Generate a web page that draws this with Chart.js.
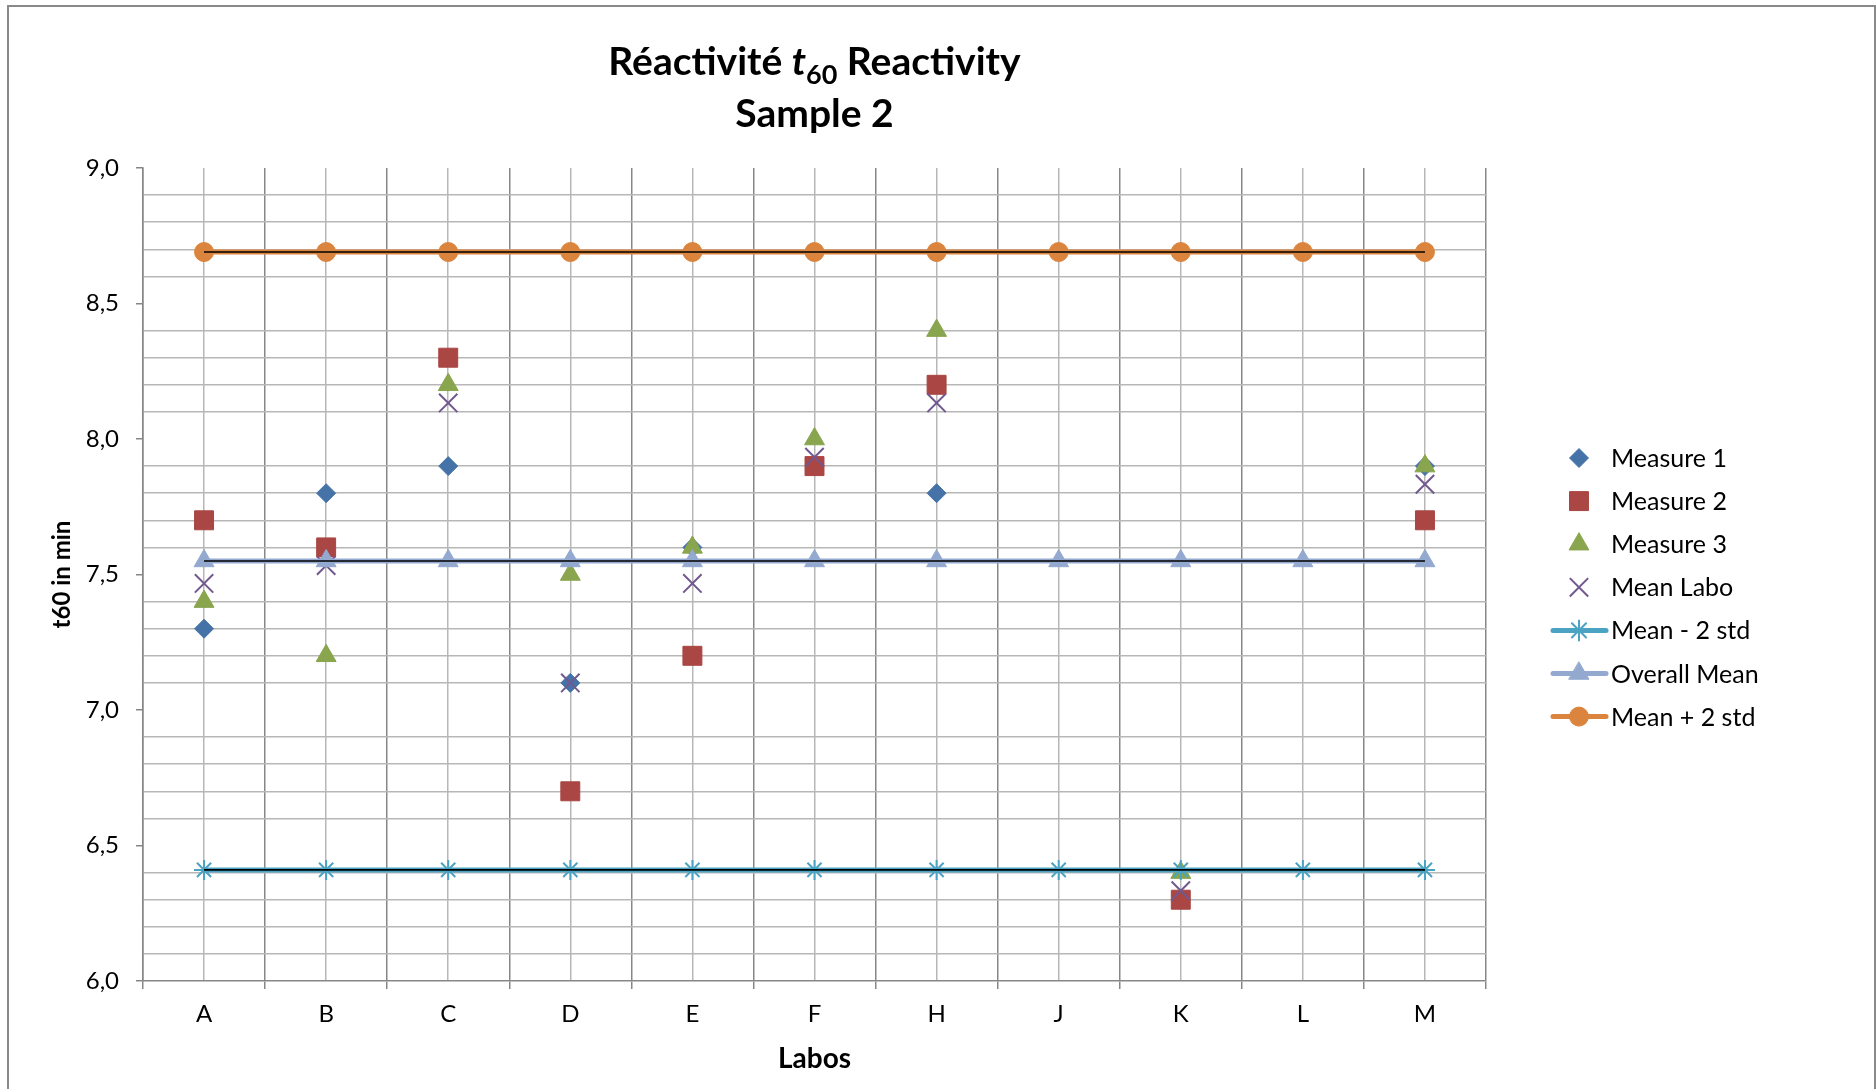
<!DOCTYPE html>
<html><head><meta charset="utf-8">
<script src="https://cdn.jsdelivr.net/npm/chart.js@4.4.1/dist/chart.umd.min.js"></script>
<style>
html,body{margin:0;padding:0;background:#fff;overflow:hidden;}
#frame{position:absolute;left:7px;top:5px;width:1869px;height:1200px;box-sizing:border-box;border:2px solid #898989;border-bottom:none;}
#wrap{position:absolute;left:0;top:0;width:1876px;height:1089px;}
</style></head><body>
<div id="frame"></div>
<div id="wrap"><canvas id="c" width="1876" height="1089"></canvas></div>
<script>
// ---- data ----
const categories = ['A','B','C','D','E','F','H','J','K','L','M'];
const measure1 = [7.3, 7.8, 7.9, 7.1, 7.6, 7.9, 7.8, null, 6.3, null, 7.9];
const measure2 = [7.7, 7.6, 8.3, 6.7, 7.2, 7.9, 8.2, null, 6.3, null, 7.7];
const measure3 = [7.4, 7.2, 8.2, 7.5, 7.6, 8.0, 8.4, null, 6.4, null, 7.9];
const meanLabo = [7.467, 7.533, 8.133, 7.1, 7.467, 7.933, 8.133, null, 6.333, null, 7.833];
const meanMinus2Std = [6.41, 6.41, 6.41, 6.41, 6.41, 6.41, 6.41, 6.41, 6.41, 6.41, 6.41];
const overallMean = [7.55, 7.55, 7.55, 7.55, 7.55, 7.55, 7.55, 7.55, 7.55, 7.55, 7.55];
const meanPlus2Std = [8.69, 8.69, 8.69, 8.69, 8.69, 8.69, 8.69, 8.69, 8.69, 8.69, 8.69];
const yMajorTicks = [6.0, 6.5, 7.0, 7.5, 8.0, 8.5, 9.0];
const yMajorLabels = ['6,0', '6,5', '7,0', '7,5', '8,0', '8,5', '9,0'];
const yMinorTicks = [6.1,6.2,6.3,6.4,6.6,6.7,6.8,6.9,7.1,7.2,7.3,7.4,7.6,7.7,7.8,7.9,8.1,8.2,8.3,8.4,8.6,8.7,8.8,8.9];
const titleLine1 = ['Réactivité ', 't', '60', ' Reactivity'];
const titleLine2 = 'Sample 2';
const yTitle = 't60 in min';
const xTitle = 'Labos';

// ---- helpers ----
const FONT = 'Lato, "Open Sans", sans-serif';
function majorIndex(v) {
  for (let i = 0; i < yMajorTicks.length; i++) if (Math.abs(yMajorTicks[i] - v) < 1e-6) return i;
  return -1;
}
const LEFT_AXIS = 143, PLOT_RIGHT = 1486, PLOT_TOP = 168, PLOT_BOTTOM = 981;

const titlePlugin = {
  id: 'richTitle',
  afterDraw(chart) {
    const ctx = chart.ctx;
    ctx.save();
    ctx.fillStyle = '#000';
    ctx.textBaseline = 'alphabetic';
    ctx.textAlign = 'left';
    const fonts = ['bold 39px ' + FONT, 'italic bold 39px ' + FONT, 'bold 27px ' + FONT, 'bold 39px ' + FONT];
    const offs = [0, 0, 9, 0];
    const widths = titleLine1.map((t, i) => { ctx.font = fonts[i]; return ctx.measureText(t).width; });
    const total = widths.reduce((a, b) => a + b, 0);
    const cx = (chart.chartArea.left + chart.chartArea.right) / 2;
    let x = cx - total / 2;
    titleLine1.forEach((t, i) => { ctx.font = fonts[i]; ctx.fillText(t, x, 75 + offs[i]); x += widths[i]; });
    ctx.font = 'bold 39px ' + FONT;
    ctx.textAlign = 'center';
    ctx.fillText(titleLine2, cx, 127);
    ctx.restore();
  }
};

const legendPlugin = {
  id: 'sideLegend',
  afterDraw(chart) {
    const ctx = chart.ctx;
    const items = chart.data.datasets.filter(d => d.label);
    const x0 = 1553, x1 = 1606, mx = 1579, tx = 1611;
    items.forEach((ds, i) => {
      const y = 458 + i * 43.1;
      ctx.save();
      if (ds.showLine !== false) {
        ctx.strokeStyle = ds.borderColor;
        ctx.lineWidth = ds.borderWidth;
        ctx.lineCap = 'round';
        ctx.beginPath(); ctx.moveTo(x0, y); ctx.lineTo(x1, y); ctx.stroke();
      }
      ctx.fillStyle = ds.pointBackgroundColor;
      ctx.strokeStyle = ds.pointBorderColor;
      ctx.lineWidth = ds.pointBorderWidth;
      Chart.helpers.drawPoint(ctx, {pointStyle: ds.pointStyle, radius: ds.pointRadius, rotation: 0, borderWidth: ds.pointBorderWidth}, mx, y);
      ctx.fillStyle = '#000';
      ctx.font = '25px ' + FONT;
      ctx.textBaseline = 'middle';
      ctx.textAlign = 'left';
      ctx.fillText(ds.label, tx, y + 1);
      ctx.restore();
    });
  }
};

function markerSet(label, data, style, radius, color, order, bw) {
  return {label, data, showLine: false, pointStyle: style, pointRadius: radius, pointHoverRadius: radius,
    pointBackgroundColor: color, pointBorderColor: color, pointBorderWidth: bw, borderColor: color, borderWidth: 0, order};
}
function lineSet(label, data, style, radius, color, order, bw) {
  return {label, data, showLine: true, borderColor: color, borderWidth: 5, pointStyle: style, pointRadius: radius,
    pointHoverRadius: radius, pointBackgroundColor: color, pointBorderColor: color, pointBorderWidth: bw, order};
}
function centerLine(data) {
  return {label: '', data, showLine: true, borderColor: '#000', borderWidth: 1.6, pointRadius: 0, pointHoverRadius: 0, order: 1};
}

const datasets = [
  markerSet('Measure 1', measure1, 'rectRot', 9.5, '#4572A7', 10, 1),
  markerSet('Measure 2', measure2, 'rect', 13.4, '#AA4643', 9, 1),
  markerSet('Measure 3', measure3, 'triangle', 11.5, '#89A54E', 8, 1),
  markerSet('Mean Labo', meanLabo, 'crossRot', 13, '#71588F', 7, 2),
  lineSet('Mean - 2 std', meanMinus2Std, 'star', 10, '#4BA3C3', 6, 2),
  lineSet('Overall Mean', overallMean, 'triangle', 11.5, '#93A9CF', 5, 1),
  lineSet('Mean + 2 std', meanPlus2Std, 'circle', 9.5, '#DB843D', 4, 1),
  centerLine(meanMinus2Std),
  centerLine(overallMean),
  centerLine(meanPlus2Std)
];

new Chart(document.getElementById('c'), {
  type: 'line',
  data: {labels: categories, datasets},
  options: {
    responsive: false,
    animation: false,
    events: [],
    layout: {padding: {top: PLOT_TOP, right: 1876 - PLOT_RIGHT, left: 0, bottom: 0}},
    plugins: {legend: {display: false}, title: {display: false}, tooltip: {enabled: false}},
    scales: {
      x: {
        type: 'category',
        position: 'bottom',
        offset: true,
        grid: {offset: true, color: '#878787', lineWidth: 1.5, tickLength: 8, tickColor: '#878787', tickWidth: 1.5},
        border: {color: '#878787', width: 1.5},
        ticks: {color: '#000', font: {family: FONT, size: 24}, padding: 11, maxRotation: 0, autoSkip: false},
        title: {display: true, text: xTitle, color: '#000', font: {family: FONT, size: 28, weight: 'bold'}, padding: {top: 0, bottom: 13}},
        afterFit: (s) => { s.height = 1089 - PLOT_BOTTOM; }
      },
      x2: {
        type: 'category',
        labels: categories,
        position: 'top',
        offset: true,
        grid: {offset: false, color: '#b7b7b7', lineWidth: 1.5, drawTicks: false},
        border: {display: false},
        ticks: {display: false},
        afterFit: (s) => { s.height = 0; }
      },
      y: {
        type: 'linear',
        min: 6, max: 9,
        afterBuildTicks: (s) => { s.ticks = yMajorTicks.concat(yMinorTicks).sort((a, b) => a - b).map(v => ({value: v})); },
        grid: {
          color: (c) => majorIndex(c.tick.value) >= 0 ? 'rgba(0,0,0,0)' : '#b7b7b7',
          tickColor: (c) => majorIndex(c.tick.value) >= 0 ? '#868686' : 'rgba(0,0,0,0)',
          lineWidth: 1.5, tickLength: 7, tickWidth: 1.5
        },
        border: {color: '#868686', width: 1.5},
        ticks: {
          autoSkip: false, color: '#000', font: {family: FONT, size: 24}, padding: 17,
          callback: (v) => { const i = majorIndex(v); return i >= 0 ? yMajorLabels[i] : ''; }
        },
        title: {display: true, text: yTitle, color: '#000', font: {family: FONT, size: 24, weight: 'bold'}, padding: {top: 48, bottom: 0}},
        afterFit: (s) => { s.width = LEFT_AXIS; }
      }
    }
  },
  plugins: [titlePlugin, legendPlugin]
});
</script>
</body></html>
